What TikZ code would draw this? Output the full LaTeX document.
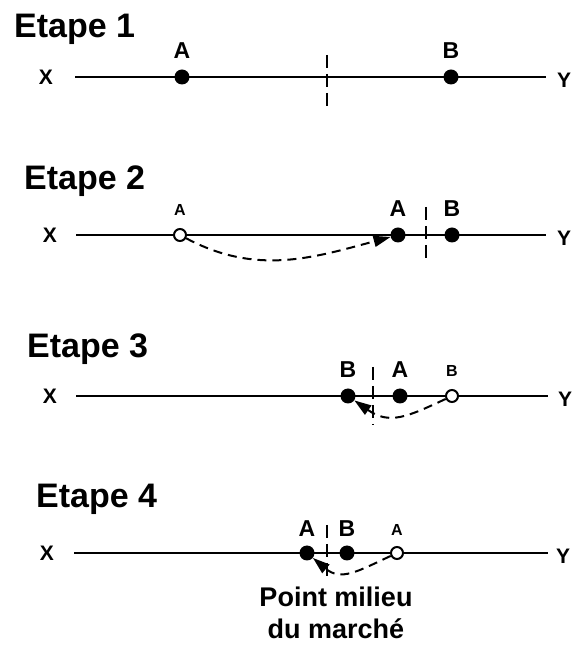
\documentclass[tikz,border=0pt]{standalone}
\usepackage{fontspec}
\setmainfont{Liberation Sans}
\usetikzlibrary{arrows.meta,positioning}

\begin{document}
\begin{tikzpicture}[
  x=1pt, y=1pt, font=\bfseries,
  title/.style={font=\fontsize{34}{34}\selectfont\bfseries, anchor=base west, inner sep=0pt},
  ends/.style={font=\fontsize{21}{21}\selectfont\bfseries, inner sep=0pt},
  lab/.style={font=\fontsize{23}{23}\selectfont\bfseries, inner sep=0pt},
  slab/.style={font=\fontsize{16}{16}\selectfont\bfseries, inner sep=0pt},
  note/.style={font=\fontsize{27}{32}\selectfont\bfseries, align=center, inner sep=0pt},
  dot/.style={circle, fill=black, inner sep=0pt, minimum size=15pt},
  hollow/.style={circle, draw=black, fill=white, line width=2pt, inner sep=0pt, minimum size=12pt},
  axis/.style={line width=2pt},
  mid/.style={line width=2pt, dash pattern=on 13pt off 6pt},
  move/.style={-{Triangle[length=17pt,width=11pt]}, line width=2pt, dash pattern=on 9pt off 6pt},
]
  \useasboundingbox (0,0) rectangle (575,646);

  % Etape 1
  \node[title] (t1) at (14,608) {Etape 1};
  \node[ends] (x1) at (46,569) {X};
  \node[ends] (y1) at (564,566) {Y};
  \coordinate (l1) at (75,569);
  \coordinate (r1) at (546,569);
  \draw[axis] (l1) -- (r1);
  \coordinate (m1t) at (327,591);
  \coordinate (m1b) at (327,535);
  \draw[mid] (m1t) -- (m1b);
  \node[dot] (a1) at (182,569) {};
  \node[dot] (b1) at (451,569) {};
  \node[lab, above=11pt of a1] (la1) {A};
  \node[lab, above=11pt of b1] (lb1) {B};

  % Etape 2
  \node[title] (t2) at (24,456) {Etape 2};
  \node[ends] (x2) at (50,411) {X};
  \node[ends] (y2) at (564,408) {Y};
  \coordinate (l2) at (76,411);
  \coordinate (r2) at (546,411);
  \draw[axis] (l2) -- (r2);
  \coordinate (m2t) at (426,439);
  \coordinate (m2b) at (426,384);
  \draw[mid] (m2t) -- (m2b);
  \node[hollow] (a2o) at (180,411) {};
  \node[dot] (a2) at (398,411) {};
  \node[dot] (b2) at (452,411) {};
  \node[slab, above=12pt of a2o] (la2o) {A};
  \node[lab, above=11pt of a2] (la2) {A};
  \node[lab, above=11pt of b2] (lb2) {B};
  \draw[move] (a2o) to[out=-28, in=195] (a2);

  % Etape 3
  \node[title] (t3) at (27,288) {Etape 3};
  \node[ends] (x3) at (50,250) {X};
  \node[ends] (y3) at (565,247) {Y};
  \coordinate (l3) at (76,250);
  \coordinate (r3) at (548,250);
  \draw[axis] (l3) -- (r3);
  \coordinate (m3t) at (373,279);
  \coordinate (m3b) at (373,221);
  \draw[mid] (m3t) -- (m3b);
  \node[dot] (b3) at (348,250) {};
  \node[dot] (a3) at (400,250) {};
  \node[hollow] (b3o) at (452,250) {};
  \node[lab, above=11pt of b3] (lb3) {B};
  \node[lab, above=11pt of a3] (la3) {A};
  \node[slab, above=12pt of b3o] (lb3o) {B};
  \draw[move] (b3o) to[out=205, in=-35, looseness=1.2] (b3);

  % Etape 4
  \node[title] (t4) at (36,138) {Etape 4};
  \node[ends] (x4) at (47,93) {X};
  \node[ends] (y4) at (563,90) {Y};
  \coordinate (l4) at (74,93);
  \coordinate (r4) at (548,93);
  \draw[axis] (l4) -- (r4);
  \coordinate (m4t) at (327,121);
  \coordinate (m4b) at (327,66);
  \draw[mid] (m4t) -- (m4b);
  \node[dot] (a4) at (307,93) {};
  \node[dot] (b4) at (347,93) {};
  \node[hollow] (a4o) at (397,93) {};
  \node[lab, above=9pt of a4] (la4) {A};
  \node[lab, above=9pt of b4] (lb4) {B};
  \node[slab, above=10pt of a4o] (la4o) {A};
  \draw[move] (a4o) to[out=205, in=-40, looseness=1.2] (a4);
  \node[note, anchor=north] (pm) at (336,59) {Point milieu\\du marché};
\end{tikzpicture}
\end{document}
